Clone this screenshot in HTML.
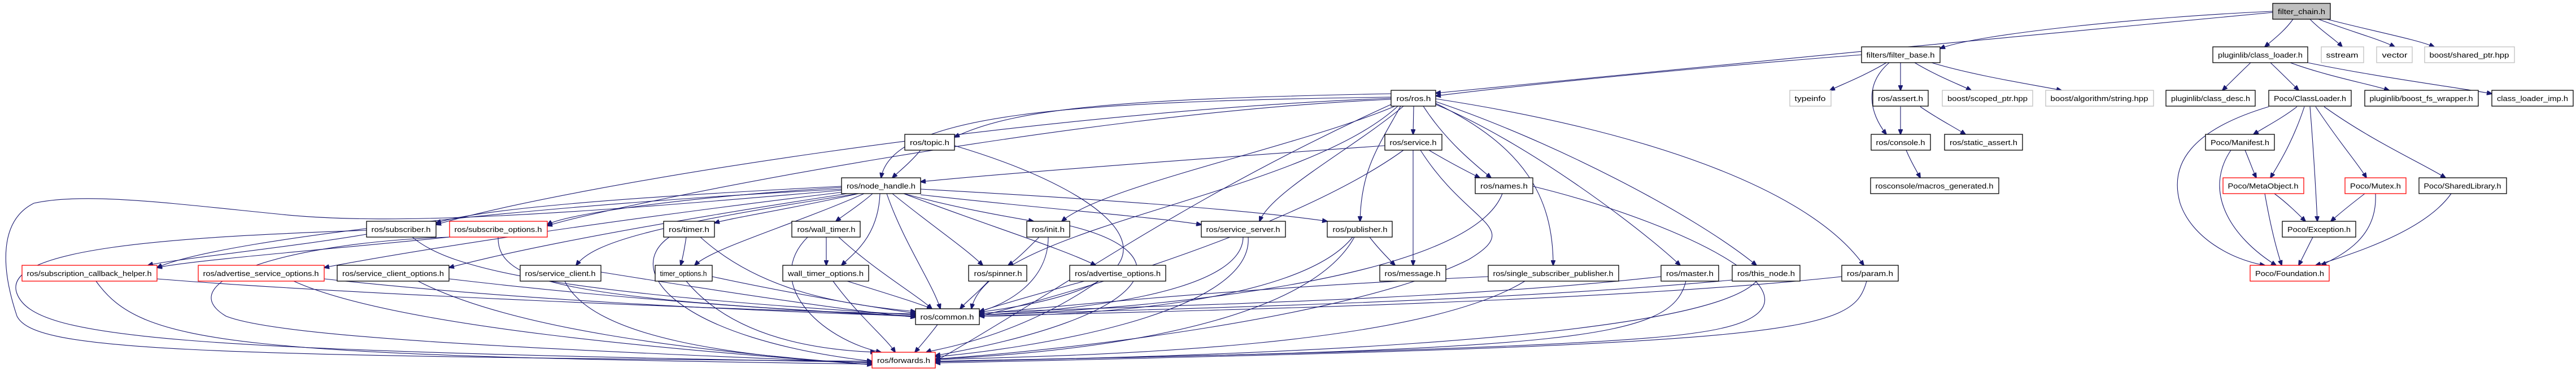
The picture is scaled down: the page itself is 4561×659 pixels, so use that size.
<!DOCTYPE html>
<html><head><meta charset="utf-8"><style>
html,body{margin:0;padding:0;background:#fff;}
svg{display:block;}
text{font-family:"Liberation Sans",sans-serif;font-size:13px;fill:#000;}
.e{fill:none;stroke:#191970;stroke-width:1.1;marker-end:url(#a);}
.n{fill:#fff;stroke:#000;stroke-width:1.3;}
.r{fill:#fff;stroke:#ff0000;stroke-width:1.3;}
.g{fill:#fff;stroke:#bfbfbf;stroke-width:1.3;}
</style></head><body>
<svg width="4561" height="659" viewBox="0 0 4561 659" xmlns="http://www.w3.org/2000/svg">
<defs><marker id="a" markerWidth="10" markerHeight="8" refX="9" refY="4" orient="auto" markerUnits="userSpaceOnUse"><path d="M0,0 L10,4 L0,8 z" fill="#191970" stroke="#191970"/></marker></defs>
<g>
<path class="e" d="M4024,20 C3800,30 3500,60 3435,86"/>
<path class="e" d="M4024,22 C3600,60 2800,140 2542,165"/>
<path class="e" d="M4060,34 C4045,55 4025,70 4010,83"/>
<path class="e" d="M4090,34 C4110,55 4135,70 4147,83"/>
<path class="e" d="M4105,34 C4160,55 4215,70 4240,83"/>
<path class="e" d="M4120,34 C4200,55 4280,70 4310,83"/>
<path class="e" d="M3296,97 C3000,120 2700,150 2542,170"/>
<path class="e" d="M3340,111 C3300,135 3260,150 3240,160"/>
<path class="e" d="M3365,111 L3365,160"/>
<path class="e" d="M3345,111 C3300,150 3310,200 3340,238"/>
<path class="e" d="M3390,111 C3430,135 3470,150 3490,160"/>
<path class="e" d="M3420,111 C3500,135 3600,150 3650,160"/>
<path class="e" d="M3365,189 L3365,238"/>
<path class="e" d="M3400,189 C3430,210 3460,225 3480,238"/>
<path class="e" d="M3375,266 C3385,290 3395,305 3400,315"/>
<path class="e" d="M3985,111 C3965,130 3945,150 3935,160"/>
<path class="e" d="M4020,111 C4040,130 4060,150 4070,160"/>
<path class="e" d="M4055,111 C4120,135 4200,150 4230,160"/>
<path class="e" d="M4086,111 C4200,135 4350,155 4412,166"/>
<path class="e" d="M4067,189 C4040,210 4010,225 3990,238"/>
<path class="e" d="M4080,189 C4060,250 4035,290 4020,315"/>
<path class="e" d="M4090,189 C4095,250 4100,330 4103,392"/>
<path class="e" d="M4100,189 C4140,250 4175,290 4190,315"/>
<path class="e" d="M4115,189 C4200,250 4290,290 4330,315"/>
<path class="e" d="M4017,189 C3880,230 3840,290 3860,360 C3880,420 3950,460 4010,470"/>
<path class="e" d="M3975,266 C3985,290 3990,305 3995,315"/>
<path class="e" d="M3950,266 C3900,340 3950,420 4030,470"/>
<path class="e" d="M4027,343 C4050,360 4070,380 4082,392"/>
<path class="e" d="M4010,343 C4020,400 4030,440 4040,470"/>
<path class="e" d="M4187,343 C4165,360 4140,380 4127,392"/>
<path class="e" d="M4206,343 C4210,420 4150,450 4110,470"/>
<path class="e" d="M4340,343 C4300,400 4200,440 4100,470"/>
<path class="e" d="M4095,420 C4085,440 4075,460 4070,470"/>
<path class="e" d="M2463,166 C2000,175 1800,190 1690,243"/>
<path class="e" d="M2463,172 C1900,180 1580,200 1560,315"/>
<path class="e" d="M2463,174 C1800,200 1000,330 772,398"/>
<path class="e" d="M2463,176 C1900,200 1100,360 969,400"/>
<path class="e" d="M2503,188 L2502,238"/>
<path class="e" d="M2520,188 C2560,250 2610,290 2640,315"/>
<path class="e" d="M2480,188 C2440,260 2410,300 2408,392"/>
<path class="e" d="M2475,188 C2300,350 1750,400 1720,547"/>
<path class="e" d="M2463,185 C2100,350 1900,500 1656,640"/>
<path class="e" d="M2470,188 C2300,260 1950,330 1880,392"/>
<path class="e" d="M2485,188 C2400,260 2250,340 2230,392"/>
<path class="e" d="M2542,183 C2700,260 2750,350 2750,470"/>
<path class="e" d="M2542,185 C2700,250 2900,400 2975,470"/>
<path class="e" d="M2542,180 C2750,250 3000,380 3110,470"/>
<path class="e" d="M2542,175 C2900,230 3200,330 3300,470"/>
<path class="e" d="M2452,258 C2000,290 1750,310 1630,322"/>
<path class="e" d="M2530,266 C2570,290 2600,305 2620,315"/>
<path class="e" d="M2502,266 L2502,470"/>
<path class="e" d="M2485,266 C2300,400 1900,520 1734,560"/>
<path class="e" d="M2515,266 C2600,400 2700,400 2600,460 C2400,560 1900,620 1656,636"/>
<path class="e" d="M1630,266 C1610,290 1590,305 1580,315"/>
<path class="e" d="M1690,258 C2000,350 2150,500 1734,553"/>
<path class="e" d="M2660,343 C2600,500 2000,550 1734,558"/>
<path class="e" d="M2714,330 C3000,400 3300,550 3000,590 C2800,620 1900,635 1656,640"/>
<path class="e" d="M1490,330 C1100,350 850,370 772,395"/>
<path class="e" d="M1490,332 C1200,350 1000,380 969,398"/>
<path class="e" d="M1490,335 C1000,360 400,420 278,474"/>
<path class="e" d="M1495,340 C1000,400 700,450 574,474"/>
<path class="e" d="M1500,343 C1000,420 850,460 795,474"/>
<path class="e" d="M1520,343 C1150,400 1050,430 1020,470"/>
<path class="e" d="M1520,343 C1400,370 1300,385 1265,395"/>
<path class="e" d="M1530,343 C1400,400 1260,440 1230,470"/>
<path class="e" d="M1545,343 C1520,365 1495,380 1480,392"/>
<path class="e" d="M1558,343 C1555,420 1510,450 1490,470"/>
<path class="e" d="M1570,343 C1600,430 1650,500 1665,547"/>
<path class="e" d="M1490,337 C1000,380 700,400 500,380 C300,360 150,340 60,360 C0,390 0,470 30,560 C60,620 300,630 1544,640"/>
<path class="e" d="M1580,343 C1650,400 1710,440 1740,470"/>
<path class="e" d="M1600,343 C1700,370 1790,385 1830,392"/>
<path class="e" d="M1600,343 C1750,400 1880,440 1940,470"/>
<path class="e" d="M1630,345 C1850,370 2050,385 2127,398"/>
<path class="e" d="M1630,335 C1900,350 2200,370 2350,392"/>
<path class="e" d="M649,415 C500,440 300,460 262,470"/>
<path class="e" d="M730,420 C800,480 1000,520 1621,558"/>
<path class="e" d="M649,408 C300,420 0,440 30,520 C60,600 300,620 1544,642"/>
<path class="e" d="M796,420 C600,440 350,460 278,474"/>
<path class="e" d="M882,420 C880,500 1000,530 1621,560"/>
<path class="e" d="M796,420 C500,430 300,500 400,560 C500,600 1000,620 1544,643"/>
<path class="e" d="M1215,420 C1212,440 1208,460 1205,470"/>
<path class="e" d="M1240,420 C1350,520 1500,540 1621,552"/>
<path class="e" d="M1185,420 C1100,480 1200,600 1544,640"/>
<path class="e" d="M1463,420 L1463,470"/>
<path class="e" d="M1485,420 C1550,480 1620,520 1650,547"/>
<path class="e" d="M1430,420 C1350,500 1450,600 1560,624"/>
<path class="e" d="M1840,420 C1820,440 1800,460 1785,470"/>
<path class="e" d="M1856,420 C1856,500 1780,540 1734,552"/>
<path class="e" d="M1894,400 C2100,450 2050,560 1656,630"/>
<path class="e" d="M2201,420 C2200,520 1900,550 1734,558"/>
<path class="e" d="M2210,420 C2220,560 1800,620 1656,632"/>
<path class="e" d="M2425,420 C2440,440 2460,460 2470,470"/>
<path class="e" d="M2395,420 C2300,540 1900,560 1734,560"/>
<path class="e" d="M2398,420 C2300,600 1800,630 1656,636"/>
<path class="e" d="M278,494 C600,520 1300,550 1621,556"/>
<path class="e" d="M170,498 C250,610 400,630 1544,645"/>
<path class="e" d="M574,494 C900,530 1300,550 1621,560"/>
<path class="e" d="M520,498 C700,580 1200,620 1544,646"/>
<path class="e" d="M795,494 C1100,530 1400,550 1621,561"/>
<path class="e" d="M740,498 C900,580 1200,620 1544,646"/>
<path class="e" d="M1064,482 C1300,520 1500,550 1621,562"/>
<path class="e" d="M1000,498 C1050,600 1300,630 1544,646"/>
<path class="e" d="M1261,490 C1400,520 1550,545 1621,555"/>
<path class="e" d="M1215,498 C1300,600 1450,620 1550,624"/>
<path class="e" d="M1500,498 C1570,520 1620,535 1650,547"/>
<path class="e" d="M1475,498 C1520,560 1570,600 1585,624"/>
<path class="e" d="M1750,498 C1730,520 1710,535 1700,547"/>
<path class="e" d="M1920,498 C1840,520 1770,540 1734,552"/>
<path class="e" d="M1945,498 C1800,600 1650,620 1640,624"/>
<path class="e" d="M2635,490 C2200,510 1900,540 1734,556"/>
<path class="e" d="M2700,498 C2500,620 1900,630 1656,637"/>
<path class="e" d="M2941,490 C2500,540 1800,545 1734,556"/>
<path class="e" d="M2985,498 C2960,600 2800,620 1656,640"/>
<path class="e" d="M3067,496 C2600,540 1900,550 1734,558"/>
<path class="e" d="M3110,498 C3000,620 1900,635 1656,641"/>
<path class="e" d="M3261,490 C2800,540 1900,555 1734,560"/>
<path class="e" d="M3305,498 C3280,590 3200,610 1656,643"/>
<path class="e" d="M1660,575 C1645,595 1630,612 1620,624"/>
</g>
<g>
<rect x="4024" y="6" width="102" height="28" fill="#bfbfbf" stroke="#000" stroke-width="1.3"/><text x="4075" y="25" text-anchor="middle" textLength="84" lengthAdjust="spacingAndGlyphs">filter_chain.h</text>
<rect class="n" x="3296" y="83" width="139" height="28"/><text x="3365" y="102" text-anchor="middle" textLength="121" lengthAdjust="spacingAndGlyphs">filters/filter_base.h</text>
<rect class="n" x="3918" y="83" width="168" height="28"/><text x="4002" y="102" text-anchor="middle" textLength="150" lengthAdjust="spacingAndGlyphs">pluginlib/class_loader.h</text>
<rect class="g" x="4110" y="83" width="75" height="28"/><text x="4147" y="102" text-anchor="middle" textLength="57" lengthAdjust="spacingAndGlyphs">sstream</text>
<rect class="g" x="4208" y="83" width="63" height="28"/><text x="4240" y="102" text-anchor="middle" textLength="45" lengthAdjust="spacingAndGlyphs">vector</text>
<rect class="g" x="4293" y="83" width="159" height="28"/><text x="4372" y="102" text-anchor="middle" textLength="141" lengthAdjust="spacingAndGlyphs">boost/shared_ptr.hpp</text>
<rect class="n" x="2463" y="160" width="79" height="28"/><text x="2503" y="179" text-anchor="middle" textLength="61" lengthAdjust="spacingAndGlyphs">ros/ros.h</text>
<rect class="g" x="3169" y="160" width="73" height="28"/><text x="3205" y="179" text-anchor="middle" textLength="55" lengthAdjust="spacingAndGlyphs">typeinfo</text>
<rect class="n" x="3316" y="160" width="98" height="28"/><text x="3365" y="179" text-anchor="middle" textLength="80" lengthAdjust="spacingAndGlyphs">ros/assert.h</text>
<rect class="g" x="3439" y="160" width="160" height="28"/><text x="3519" y="179" text-anchor="middle" textLength="142" lengthAdjust="spacingAndGlyphs">boost/scoped_ptr.hpp</text>
<rect class="g" x="3622" y="160" width="191" height="28"/><text x="3717" y="179" text-anchor="middle" textLength="173" lengthAdjust="spacingAndGlyphs">boost/algorithm/string.hpp</text>
<rect class="n" x="3835" y="160" width="158" height="28"/><text x="3914" y="179" text-anchor="middle" textLength="140" lengthAdjust="spacingAndGlyphs">pluginlib/class_desc.h</text>
<rect class="n" x="4017" y="160" width="146" height="28"/><text x="4090" y="179" text-anchor="middle" textLength="128" lengthAdjust="spacingAndGlyphs">Poco/ClassLoader.h</text>
<rect class="n" x="4187" y="160" width="201" height="28"/><text x="4287" y="179" text-anchor="middle" textLength="183" lengthAdjust="spacingAndGlyphs">pluginlib/boost_fs_wrapper.h</text>
<rect class="n" x="4412" y="160" width="144" height="28"/><text x="4484" y="179" text-anchor="middle" textLength="126" lengthAdjust="spacingAndGlyphs">class_loader_imp.h</text>
<rect class="n" x="1602" y="238" width="88" height="28"/><text x="1646" y="257" text-anchor="middle" textLength="70" lengthAdjust="spacingAndGlyphs">ros/topic.h</text>
<rect class="n" x="2452" y="238" width="101" height="28"/><text x="2502" y="257" text-anchor="middle" textLength="83" lengthAdjust="spacingAndGlyphs">ros/service.h</text>
<rect class="n" x="3313" y="238" width="105" height="28"/><text x="3365" y="257" text-anchor="middle" textLength="87" lengthAdjust="spacingAndGlyphs">ros/console.h</text>
<rect class="n" x="3443" y="238" width="138" height="28"/><text x="3512" y="257" text-anchor="middle" textLength="120" lengthAdjust="spacingAndGlyphs">ros/static_assert.h</text>
<rect class="n" x="3905" y="238" width="122" height="28"/><text x="3966" y="257" text-anchor="middle" textLength="104" lengthAdjust="spacingAndGlyphs">Poco/Manifest.h</text>
<rect class="n" x="1490" y="315" width="140" height="28"/><text x="1560" y="334" text-anchor="middle" textLength="122" lengthAdjust="spacingAndGlyphs">ros/node_handle.h</text>
<rect class="n" x="2612" y="315" width="102" height="28"/><text x="2663" y="334" text-anchor="middle" textLength="84" lengthAdjust="spacingAndGlyphs">ros/names.h</text>
<rect class="n" x="3312" y="315" width="227" height="28"/><text x="3425" y="334" text-anchor="middle" textLength="209" lengthAdjust="spacingAndGlyphs">rosconsole/macros_generated.h</text>
<rect class="r" x="3936" y="315" width="143" height="28"/><text x="4007" y="334" text-anchor="middle" textLength="125" lengthAdjust="spacingAndGlyphs">Poco/MetaObject.h</text>
<rect class="r" x="4152" y="315" width="108" height="28"/><text x="4206" y="334" text-anchor="middle" textLength="90" lengthAdjust="spacingAndGlyphs">Poco/Mutex.h</text>
<rect class="n" x="4283" y="315" width="155" height="28"/><text x="4360" y="334" text-anchor="middle" textLength="137" lengthAdjust="spacingAndGlyphs">Poco/SharedLibrary.h</text>
<rect class="n" x="649" y="392" width="123" height="28"/><text x="710" y="411" text-anchor="middle" textLength="105" lengthAdjust="spacingAndGlyphs">ros/subscriber.h</text>
<rect class="r" x="796" y="392" width="173" height="28"/><text x="882" y="411" text-anchor="middle" textLength="155" lengthAdjust="spacingAndGlyphs">ros/subscribe_options.h</text>
<rect class="n" x="1175" y="392" width="90" height="28"/><text x="1220" y="411" text-anchor="middle" textLength="72" lengthAdjust="spacingAndGlyphs">ros/timer.h</text>
<rect class="n" x="1402" y="392" width="121" height="28"/><text x="1463" y="411" text-anchor="middle" textLength="103" lengthAdjust="spacingAndGlyphs">ros/wall_timer.h</text>
<rect class="n" x="1818" y="392" width="76" height="28"/><text x="1856" y="411" text-anchor="middle" textLength="58" lengthAdjust="spacingAndGlyphs">ros/init.h</text>
<rect class="n" x="2127" y="392" width="149" height="28"/><text x="2201" y="411" text-anchor="middle" textLength="131" lengthAdjust="spacingAndGlyphs">ros/service_server.h</text>
<rect class="n" x="2350" y="392" width="115" height="28"/><text x="2408" y="411" text-anchor="middle" textLength="97" lengthAdjust="spacingAndGlyphs">ros/publisher.h</text>
<rect class="n" x="4041" y="392" width="130" height="28"/><text x="4106" y="411" text-anchor="middle" textLength="112" lengthAdjust="spacingAndGlyphs">Poco/Exception.h</text>
<rect class="r" x="39" y="470" width="239" height="28"/><text x="158" y="489" text-anchor="middle" textLength="221" lengthAdjust="spacingAndGlyphs">ros/subscription_callback_helper.h</text>
<rect class="r" x="351" y="470" width="223" height="28"/><text x="462" y="489" text-anchor="middle" textLength="205" lengthAdjust="spacingAndGlyphs">ros/advertise_service_options.h</text>
<rect class="n" x="597" y="470" width="198" height="28"/><text x="696" y="489" text-anchor="middle" textLength="180" lengthAdjust="spacingAndGlyphs">ros/service_client_options.h</text>
<rect class="n" x="921" y="470" width="143" height="28"/><text x="992" y="489" text-anchor="middle" textLength="125" lengthAdjust="spacingAndGlyphs">ros/service_client.h</text>
<rect class="n" x="1160" y="470" width="101" height="28"/><text x="1210" y="489" text-anchor="middle" textLength="83" lengthAdjust="spacingAndGlyphs">timer_options.h</text>
<rect class="n" x="1386" y="470" width="152" height="28"/><text x="1462" y="489" text-anchor="middle" textLength="134" lengthAdjust="spacingAndGlyphs">wall_timer_options.h</text>
<rect class="n" x="1715" y="470" width="103" height="28"/><text x="1767" y="489" text-anchor="middle" textLength="85" lengthAdjust="spacingAndGlyphs">ros/spinner.h</text>
<rect class="n" x="1894" y="470" width="170" height="28"/><text x="1979" y="489" text-anchor="middle" textLength="152" lengthAdjust="spacingAndGlyphs">ros/advertise_options.h</text>
<rect class="n" x="2443" y="470" width="117" height="28"/><text x="2501" y="489" text-anchor="middle" textLength="99" lengthAdjust="spacingAndGlyphs">ros/message.h</text>
<rect class="n" x="2635" y="470" width="231" height="28"/><text x="2750" y="489" text-anchor="middle" textLength="213" lengthAdjust="spacingAndGlyphs">ros/single_subscriber_publisher.h</text>
<rect class="n" x="2941" y="470" width="102" height="28"/><text x="2992" y="489" text-anchor="middle" textLength="84" lengthAdjust="spacingAndGlyphs">ros/master.h</text>
<rect class="n" x="3067" y="470" width="120" height="28"/><text x="3127" y="489" text-anchor="middle" textLength="102" lengthAdjust="spacingAndGlyphs">ros/this_node.h</text>
<rect class="n" x="3261" y="470" width="100" height="28"/><text x="3311" y="489" text-anchor="middle" textLength="82" lengthAdjust="spacingAndGlyphs">ros/param.h</text>
<rect class="r" x="3984" y="470" width="140" height="28"/><text x="4054" y="489" text-anchor="middle" textLength="122" lengthAdjust="spacingAndGlyphs">Poco/Foundation.h</text>
<rect class="n" x="1621" y="547" width="113" height="28"/><text x="1677" y="566" text-anchor="middle" textLength="95" lengthAdjust="spacingAndGlyphs">ros/common.h</text>
<rect class="r" x="1544" y="624" width="112" height="28"/><text x="1600" y="643" text-anchor="middle" textLength="94" lengthAdjust="spacingAndGlyphs">ros/forwards.h</text>
</g>
</svg>
</body></html>
